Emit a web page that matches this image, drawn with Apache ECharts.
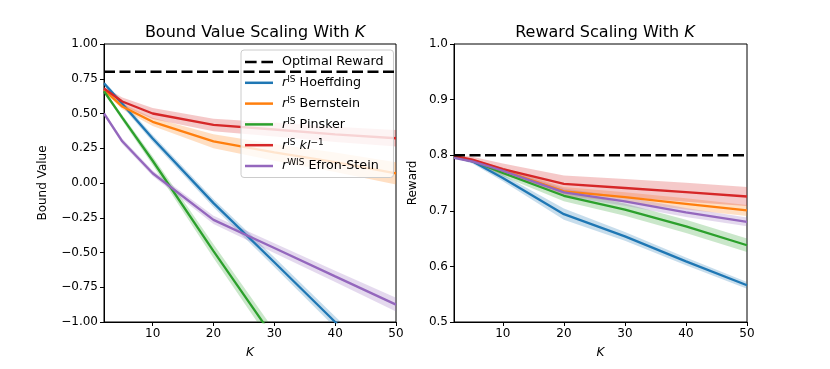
<!DOCTYPE html>
<html>
<head>
<meta charset="utf-8">
<script src="https://cdn.jsdelivr.net/npm/echarts@6/dist/echarts.min.js"></script>
<style>
  html, body { margin: 0; padding: 0; background: #fff; }
  #main { width: 830px; height: 369px; }
</style>
</head>
<body>
<div id="main"></div>
<script>
// K values used on both panels
var kValues = [2, 5, 10, 20, 30, 40, 50];
var xTicks = [10, 20, 30, 40, 50];
var optimalReward = 0.8;

// left panel: bound values (mean, half width of band)
var hoeffBound = [0.717, 0.57, 0.32, -0.145, -0.57, -1.0, -1.43];
var hoeffBoundErr = [0.015, 0.02, 0.025, 0.03, 0.035, 0.04, 0.045];
var bernBound = [0.67, 0.55, 0.44, 0.30, 0.22, 0.15, 0.07];
var bernBoundErr = [0.01, 0.02, 0.03, 0.05, 0.06, 0.07, 0.08];
var pinskerBound = [0.66, 0.47, 0.16, -0.49, -1.12, -1.75, -2.38];
var pinskerBoundErr = [0.01, 0.02, 0.03, 0.05, 0.06, 0.07, 0.08];
var klBound = [0.68, 0.586, 0.50, 0.418, 0.385, 0.35, 0.322];
var klBoundErr = [0.01, 0.03, 0.04, 0.045, 0.05, 0.055, 0.06];
var esBound = [0.50, 0.30, 0.07, -0.265, -0.468, -0.672, -0.875];
var esBoundErr = [0.01, 0.02, 0.02, 0.03, 0.035, 0.04, 0.05];

// right panel: reward
var hoeffReward = [0.797, 0.789, 0.759, 0.694, 0.654, 0.609, 0.566];
var hoeffRewardErr = [0.002, 0.004, 0.006, 0.01, 0.008, 0.007, 0.006];
var bernReward = [0.797, 0.79, 0.773, 0.735, 0.7245, 0.7125, 0.7006];
var bernRewardErr = [0.002, 0.003, 0.005, 0.008, 0.009, 0.01, 0.01];
var pinskerReward = [0.797, 0.79, 0.768, 0.727, 0.702, 0.672, 0.638];
var pinskerRewardErr = [0.002, 0.003, 0.006, 0.01, 0.011, 0.012, 0.012];
var klReward = [0.799, 0.792, 0.775, 0.7485, 0.741, 0.7335, 0.7257];
var klRewardErr = [0.002, 0.005, 0.01, 0.015, 0.016, 0.017, 0.017];
var esReward = [0.795, 0.789, 0.772, 0.733, 0.717, 0.697, 0.680];
var esRewardErr = [0.002, 0.003, 0.005, 0.007, 0.008, 0.008, 0.008];

var FONT = 'DejaVu Sans';
var colors = {
  'Hoeffding': '#1f77b4',
  'Bernstein': '#ff7f0e',
  'Pinsker': '#2ca02c',
  'kl': '#d62728',
  'Efron-Stein': '#9467bd'
};

function pairs(vals) {
  return kValues.map(function (k, i) { return [k, vals[i]]; });
}

// shaded band drawn as one polygon through the axis scales
function bandSeries(idx, mean, err, color) {
  var band = kValues.map(function (k, i) { return [k, mean[i] - err[i], mean[i] + err[i]]; });
  return {
    type: 'custom', xAxisIndex: idx, yAxisIndex: idx, silent: true, clip: true, z: 1,
    data: band,
    encode: { x: 0, y: [1, 2] },
    renderItem: function (params, api) {
      if (params.dataIndex !== 0) return;
      var top = band.map(function (d) { return api.coord([d[0], d[2]]); });
      var bot = band.map(function (d) { return api.coord([d[0], d[1]]); }).reverse();
      return {
        type: 'polygon',
        shape: { points: top.concat(bot) },
        style: { fill: color, opacity: 0.25 }
      };
    }
  };
}

function meanSeries(name, idx, mean) {
  return {
    name: name, type: 'line', xAxisIndex: idx, yAxisIndex: idx,
    data: pairs(mean), symbol: 'none', z: 3,
    itemStyle: { color: colors[name] },
    lineStyle: { color: colors[name], width: 2.3 }
  };
}

function optimalSeries(idx) {
  return {
    name: 'Optimal Reward', type: 'line', xAxisIndex: idx, yAxisIndex: idx,
    data: [[2, optimalReward], [50, optimalReward]], symbol: 'none', z: 4,
    itemStyle: { color: '#000' },
    lineStyle: { color: '#000', width: 2.5, type: [11, 4.5] }
  };
}

var sets = [
  ['Hoeffding', hoeffBound, hoeffBoundErr, hoeffReward, hoeffRewardErr],
  ['Bernstein', bernBound, bernBoundErr, bernReward, bernRewardErr],
  ['Pinsker', pinskerBound, pinskerBoundErr, pinskerReward, pinskerRewardErr],
  ['kl', klBound, klBoundErr, klReward, klRewardErr],
  ['Efron-Stein', esBound, esBoundErr, esReward, esRewardErr]
];

var series = [optimalSeries(0), optimalSeries(1)];
sets.forEach(function (s) {
  var c = colors[s[0]];
  series.push(bandSeries(0, s[1], s[2], c));
  series.push(bandSeries(1, s[3], s[4], c));
  series.push(meanSeries(s[0], 0, s[1]));
  series.push(meanSeries(s[0], 1, s[3]));
});

function xAxisFor(idx) {
  return {
    type: 'value', gridIndex: idx, min: 2, max: 50,
    name: 'K', nameLocation: 'middle', nameGap: 25,
    nameTextStyle: { fontFamily: FONT, fontSize: 12, fontStyle: 'italic', color: '#000' },
    axisLine: { show: true, onZero: false, lineStyle: { color: '#000', width: 1 } },
    axisTick: { show: true, length: 4, customValues: xTicks, lineStyle: { color: '#000' } },
    axisLabel: { customValues: xTicks, fontFamily: FONT, fontSize: 12, color: '#000', margin: 6 },
    splitLine: { show: false }
  };
}

function fmtMinus(v, d) {
  var s = Math.abs(v).toFixed(d);
  return v < -1e-9 ? '\u2212' + s : s;
}

var lineIcon = 'path://M0,0h28v2.5h-28z';
var dashIcon = 'path://M0,0h11v2.5h-11zM15.5,0h11v2.5h-11z';

var chart = echarts.init(document.getElementById('main'), null, { renderer: 'canvas' });
chart.setOption({
  animation: false,
  backgroundColor: '#fff',
  title: [
    {
      text: 'Bound Value Scaling With {i|K}', left: 250, top: 20, textAlign: 'center',
      textStyle: { fontFamily: FONT, fontSize: 16, fontWeight: 'normal', color: '#000',
        rich: { i: { fontFamily: FONT, fontSize: 16, fontStyle: 'italic', color: '#000' } } }
    },
    {
      text: 'Reward Scaling With {i|K}', left: 600, top: 20, textAlign: 'center',
      textStyle: { fontFamily: FONT, fontSize: 16, fontWeight: 'normal', color: '#000',
        rich: { i: { fontFamily: FONT, fontSize: 16, fontStyle: 'italic', color: '#000' } } }
    }
  ],
  grid: [
    { left: 104, top: 44, width: 292, height: 278, show: true, borderColor: '#000', borderWidth: 1 },
    { left: 454, top: 44, width: 293, height: 278, show: true, borderColor: '#000', borderWidth: 1 }
  ],
  xAxis: [xAxisFor(0), xAxisFor(1)],
  yAxis: [
    {
      type: 'value', gridIndex: 0, min: -1, max: 1, interval: 0.25,
      name: 'Bound Value', nameLocation: 'middle', nameGap: 55,
      nameTextStyle: { fontFamily: FONT, fontSize: 12, color: '#000' },
      axisLine: { show: true, onZero: false, lineStyle: { color: '#000' } },
      axisTick: { show: true, length: 4, lineStyle: { color: '#000' } },
      axisLabel: { fontFamily: FONT, fontSize: 12, color: '#000', margin: 6, showMinLabel: true, showMaxLabel: true,
        formatter: function (v) { return fmtMinus(v, 2); } },
      splitLine: { show: false }
    },
    {
      type: 'value', gridIndex: 1, min: 0.5, max: 1.0, interval: 0.1,
      name: 'Reward', nameLocation: 'middle', nameGap: 35,
      nameTextStyle: { fontFamily: FONT, fontSize: 12, color: '#000' },
      axisLine: { show: true, onZero: false, lineStyle: { color: '#000' } },
      axisTick: { show: true, length: 4, lineStyle: { color: '#000' } },
      axisLabel: { fontFamily: FONT, fontSize: 12, color: '#000', margin: 6, showMinLabel: true, showMaxLabel: true,
        formatter: function (v) { return fmtMinus(v, 1); } },
      splitLine: { show: false }
    }
  ],
  legend: {
    left: 241, top: 50, orient: 'vertical',
    data: [
      { name: 'Optimal Reward', icon: dashIcon },
      { name: 'Hoeffding', icon: lineIcon },
      { name: 'Bernstein', icon: lineIcon },
      { name: 'Pinsker', icon: lineIcon },
      { name: 'kl', icon: lineIcon },
      { name: 'Efron-Stein', icon: lineIcon }
    ],
    itemWidth: 28, itemHeight: 15, itemGap: 6.8,
    padding: [5.5, 10, 5, 4],
    backgroundColor: 'rgba(255,255,255,0.8)', borderColor: '#ccc', borderWidth: 1, borderRadius: 3,
    selectedMode: false,
    textStyle: {
      fontFamily: FONT, fontSize: 12.7, color: '#000', padding: [0, 0, 0, 4],
      rich: {
        t: { fontFamily: FONT, fontSize: 12.7, color: '#000', lineHeight: 15 },
        i: { fontFamily: FONT, fontSize: 12.7, fontStyle: 'italic', color: '#000', lineHeight: 15 },
        sup: { fontFamily: FONT, fontSize: 9, color: '#000', verticalAlign: 'top', lineHeight: 15, padding: [0, 0, 4, 0] }
      }
    },
    formatter: function (name) {
      if (name === 'Optimal Reward') return '{t|Optimal Reward}';
      if (name === 'kl') return '{i|r}{sup|IS} {i|kl}{sup|\u22121}';
      if (name === 'Efron-Stein') return '{i|r}{sup|WIS} {t|Efron-Stein}';
      return '{i|r}{sup|IS} {t|' + name + '}';
    }
  },
  series: series
});
</script>
</body>
</html>
